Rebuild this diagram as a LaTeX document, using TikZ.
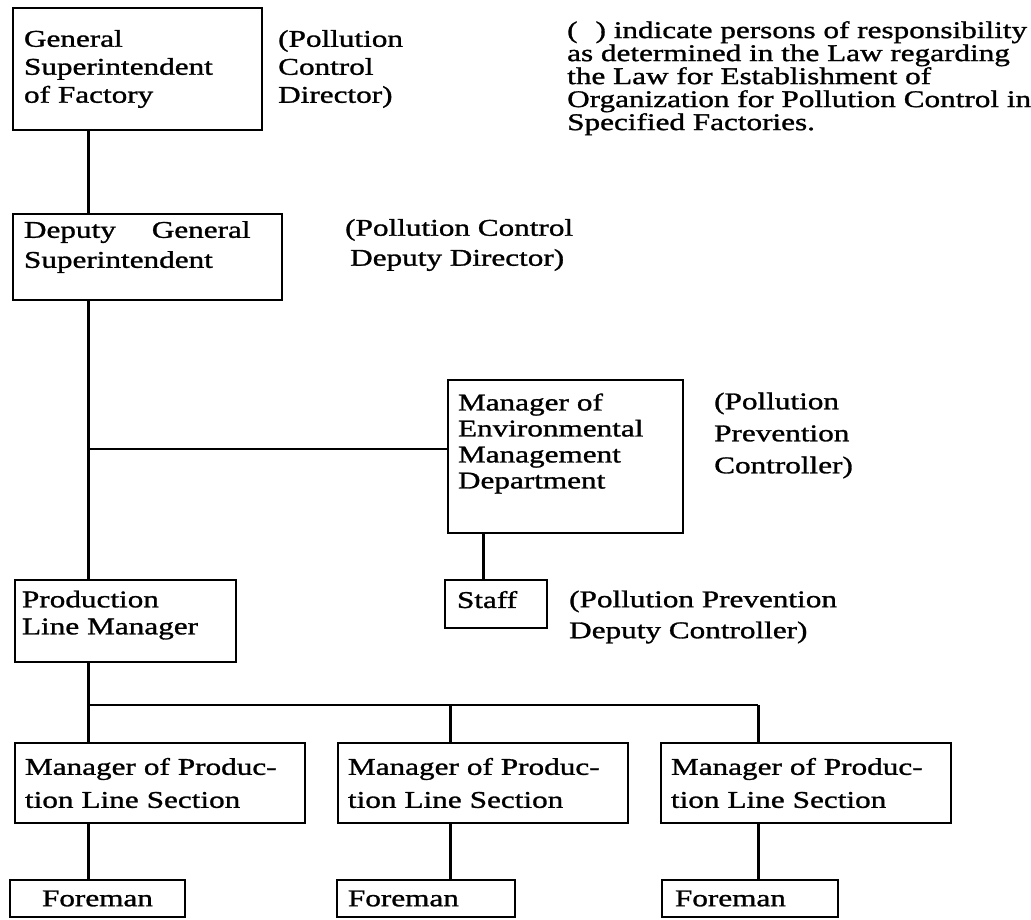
\documentclass[tikz,border=0pt]{standalone}
\usepackage{fontspec}
\setmainfont{Liberation Serif}[FakeStretch=1.3, FakeBold=1.2]
\usetikzlibrary{positioning}
\newcommand{\chartfont}[1]{\fontsize{24}{#1}\selectfont}
\newcommand{\padbelow}[1]{\rule[-#1]{0pt}{0pt}}

\begin{document}
\begin{tikzpicture}[x=1pt, y=-1pt,
        box/.style={draw, rectangle, line width=2pt, align=left, inner xsep=10pt, inner ysep=0pt, font=\chartfont{28}},
        lbl/.style={align=left, inner sep=0pt, font=\chartfont{28}},
        link/.style={line width=3pt},
        hlink/.style={line width=1.6pt}
    ]
        \useasboundingbox (0,0) rectangle (1031,920);

        % Top management
        \node[box, text width=227pt, minimum height=122pt, inner xsep=11pt] (gsf) at (137.5,69) {General\\Superintendent\\of Factory};
        \node[lbl, right=15pt of gsf] (pcd) {(Pollution\\Control\\Director)};
        \node[lbl, anchor=north west, font=\chartfont{23}] (note) at (567,21) {(\hspace{18pt}) indicate persons of responsibility\\as determined in the Law regarding\\the Law for Establishment of\\Organization for Pollution Control in\\Specified Factories.};

        \node[box, text width=247pt, minimum height=86pt, inner xsep=11pt, font=\chartfont{30}] (dgs) at (147.5,257) {Deputy\hspace{36pt}General\\Superintendent\padbelow{25pt}};
        \node[lbl, right=62pt of dgs, yshift=12pt, font=\chartfont{30}] (pcdd) {(Pollution Control\\\hspace{5pt}Deputy Director)};

        % Environmental side
        \node[box, text width=215pt, minimum height=153pt, font=\chartfont{26}] (emd) at (565.5,456.5) {Manager of\\Environmental\\Management\\Department\padbelow{31pt}};
        \node[lbl, right=30pt of emd, yshift=21pt, font=\chartfont{32}] (ppc) {(Pollution\\Prevention\\Controller)};

        \node[box, text width=78pt, minimum height=48pt, inner xsep=12pt] (staff) at (496,604) {Staff\padbelow{9pt}};
        \node[lbl, right=21pt of staff, yshift=-13pt, font=\chartfont{31}] (ppdc) {(Pollution Prevention\\Deputy Controller)};

        % Production side
        \node[box, text width=207pt, minimum height=82pt, inner xsep=7pt, font=\chartfont{27}] (plm) at (125.5,621) {Production\\Line Manager\padbelow{17pt}};

        \foreach \i/\cx in {1/160, 2/483, 3/806}
            \node[box, text width=270pt, minimum height=80pt, font=\chartfont{33}] (sec\i) at (\cx,783) {Manager of Produc-\\tion Line Section};

        \node[box, text width=155pt, minimum height=37pt, align=center] (fm1) at (97.5,898.5) {Foreman};
        \node[box, text width=156pt, minimum height=37pt, inner xsep=11pt] (fm2) at (426,898.5) {Foreman};
        \node[box, text width=150pt, minimum height=37pt, inner xsep=13pt] (fm3) at (750,898.5) {Foreman};

        % Connections
        \coordinate (tk) at (88,0);
        \draw[link] (gsf.south -| tk) -- (dgs.north -| tk);
        \draw[link] (dgs.south -| tk) -- (plm.north -| tk);
        \draw[hlink] ([yshift=-70pt]emd.north west) -- ([yshift=-70pt]emd.north west -| tk);
        \draw[link] ([xshift=36pt]emd.south west) -- ([xshift=39pt]staff.north west);

        \foreach \i/\dx in {1/88, 2/450, 3/758}
            \coordinate (d\i) at (\dx,705);
        \draw[link] (plm.south -| tk) -- (d1);
        \draw[hlink] (d1) -- (d3);
        \foreach \i in {1,2,3} {
            \draw[link] (d\i) -- (sec\i.north -| d\i);
            \draw[link] (sec\i.south -| d\i) -- (fm\i.north -| d\i);
        }
    \end{tikzpicture}
\end{document}
